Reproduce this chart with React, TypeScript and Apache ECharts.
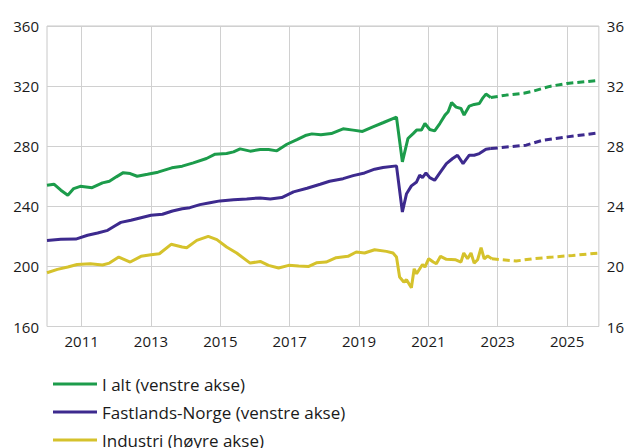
import React, { useEffect, useRef } from "react";
import * as echarts from "echarts";

// Tick years on the horizontal axis
const tickYears = [2011, 2013, 2015, 2017, 2019, 2021, 2023, 2025];

// Legend names
const nameTotal = "I alt (venstre akse)";
const nameMainland = "Fastlands-Norge (venstre akse)";
const nameIndustry = "Industri (høyre akse)";

// I alt (left axis) – history [year, value]
const totalHist: [number, number][] = [
  [2010.0, 254], [2010.2, 254.7], [2010.4, 250.7], [2010.6, 247.3], [2010.77, 251.8], [2010.96, 253.3],
  [2011.3, 252.4], [2011.6, 255.6], [2011.8, 256.7], [2012.0, 259.6], [2012.2, 262.4], [2012.4, 261.8],
  [2012.6, 260], [2012.9, 261.3], [2013.2, 262.7], [2013.6, 265.6], [2013.9, 266.7], [2014.22, 268.9],
  [2014.6, 271.8], [2014.85, 274.7], [2015.18, 275.1], [2015.38, 276.2], [2015.57, 278.2], [2015.86, 276.7],
  [2016.15, 277.8], [2016.39, 277.8], [2016.63, 276.9], [2016.92, 281.3], [2017.21, 284.4], [2017.45, 287.1],
  [2017.64, 288.2], [2017.9, 287.6], [2018.2, 288.4], [2018.54, 291.6], [2018.83, 290.7], [2019.1, 289.8],
  [2019.4, 292.9], [2019.69, 295.6], [2020.08, 299.3], [2020.25, 269.6], [2020.41, 285.1], [2020.56, 288.4],
  [2020.66, 290.7], [2020.8, 290.7], [2020.9, 295.1], [2021.04, 291.1], [2021.18, 290.2], [2021.33, 295.1],
  [2021.48, 300.7], [2021.57, 302.9], [2021.67, 309], [2021.8, 306], [2021.94, 305.1], [2022.03, 300.7],
  [2022.18, 306.7], [2022.32, 307.8], [2022.47, 308.4], [2022.56, 311.8], [2022.66, 314.7], [2022.8, 312.4],
];
// I alt – projection
const totalProj: [number, number][] = [
  [2022.8, 312.4], [2023.25, 314], [2023.75, 315.3], [2024.0, 316.5], [2024.5, 319.8], [2025.0, 321.8], [2025.92, 323.8],
];

// Fastlands-Norge (left axis) – history
const mainlandHist: [number, number][] = [
  [2010.0, 217.3], [2010.4, 218], [2010.83, 218.2], [2011.17, 220.7], [2011.46, 222.2], [2011.75, 224],
  [2011.94, 226.7], [2012.13, 229.3], [2012.42, 230.7], [2012.71, 232.4], [2013.0, 234], [2013.33, 234.7],
  [2013.62, 236.9], [2013.9, 238.4], [2014.12, 239.1], [2014.41, 241.1], [2014.7, 242.4], [2014.99, 243.6],
  [2015.38, 244.4], [2015.76, 244.9], [2016.15, 245.6], [2016.44, 244.9], [2016.77, 245.8], [2017.11, 249.6],
  [2017.5, 252], [2017.88, 254.7], [2018.15, 256.7], [2018.54, 258.4], [2018.83, 260.4], [2019.16, 262.2],
  [2019.45, 264.7], [2019.69, 265.8], [2020.08, 266.9], [2020.25, 236.2], [2020.37, 248.4], [2020.51, 253.6],
  [2020.66, 256.2], [2020.75, 260.7], [2020.83, 259.1], [2020.93, 262.2], [2021.04, 259.1], [2021.18, 257.3],
  [2021.33, 262.2], [2021.52, 268.4], [2021.7, 271.8], [2021.84, 274], [2022.0, 268.4], [2022.18, 274],
  [2022.32, 274], [2022.47, 275.1], [2022.66, 278], [2022.8, 278.4],
];
// Fastlands-Norge – projection
const mainlandProj: [number, number][] = [
  [2022.8, 278.4], [2023.33, 279.6], [2023.82, 280.7], [2024.3, 284], [2025.0, 286.2], [2025.92, 288.9],
];

// Industri (right axis) – history
const industryHist: [number, number][] = [
  [2010.0, 19.58], [2010.3, 19.8], [2010.6, 19.96], [2010.87, 20.13], [2011.25, 20.18], [2011.6, 20.09],
  [2011.8, 20.22], [2012.07, 20.62], [2012.4, 20.29], [2012.71, 20.67], [2013.0, 20.78], [2013.24, 20.84],
  [2013.58, 21.47], [2013.9, 21.29], [2014.03, 21.24], [2014.32, 21.73], [2014.65, 22.0], [2014.9, 21.78],
  [2015.18, 21.29], [2015.47, 20.89], [2015.86, 20.22], [2016.15, 20.33], [2016.39, 20.07], [2016.68, 19.89],
  [2016.97, 20.07], [2017.26, 20.02], [2017.55, 20.0], [2017.77, 20.24], [2018.05, 20.29], [2018.34, 20.58],
  [2018.68, 20.67], [2018.92, 20.96], [2019.16, 20.89], [2019.45, 21.11], [2019.79, 21.0], [2019.98, 20.89],
  [2020.08, 20.62], [2020.17, 19.29], [2020.29, 18.96], [2020.37, 19.11], [2020.51, 18.58], [2020.59, 19.84],
  [2020.66, 19.51], [2020.83, 20.13], [2020.9, 19.96], [2021.01, 20.51], [2021.14, 20.29], [2021.23, 20.18],
  [2021.35, 20.67], [2021.52, 20.47], [2021.79, 20.44], [2021.94, 20.29], [2022.02, 20.89], [2022.13, 20.51],
  [2022.23, 20.89], [2022.32, 20.22], [2022.42, 20.44], [2022.52, 21.24], [2022.61, 20.51], [2022.71, 20.69],
  [2022.83, 20.51],
];
// Industri – projection
const industryProj: [number, number][] = [
  [2022.83, 20.51], [2023.14, 20.44], [2023.53, 20.36], [2024.01, 20.51], [2024.59, 20.62], [2025.16, 20.73], [2025.92, 20.89],
];

const GREEN = "#1c9c4b";
const PURPLE = "#3d2a8e";
const YELLOW = "#d5c22c";
const FONT = "'Open Sans', 'Liberation Sans', sans-serif";
const TEXT = "#1a1a1a";

export default function App() {
  const ref = useRef<HTMLDivElement>(null);
  useEffect(() => {
    if (!ref.current) return;
    const chart = echarts.init(ref.current, undefined, { renderer: "svg" });
    const solid = (name: string, data: [number, number][], color: string, yAxisIndex: number) => ({
      type: "line",
      name,
      data,
      yAxisIndex,
      showSymbol: false,
      symbol: "none",
      color,
      itemStyle: { color },
      lineStyle: { color, width: 3 },
      emphasis: { disabled: true },
    });
    const dashed = (name: string, data: [number, number][], color: string, yAxisIndex: number) => ({
      type: "line",
      name,
      data,
      yAxisIndex,
      showSymbol: false,
      symbol: "none",
      color,
      lineStyle: { color, width: 3, type: [7, 4] },
      emphasis: { disabled: true },
    });
    chart.setOption({
      animation: false,
      textStyle: { fontFamily: FONT },
      grid: {
        left: 47,
        right: 28,
        top: 26,
        bottom: 121.5,
        show: true,
        borderColor: "#c8c8c8",
        borderWidth: 1,
        containLabel: false,
      },
      legend: {
        orient: "vertical",
        left: 53,
        top: 375,
        height: 90,
        padding: 0,
        itemWidth: 44,
        itemHeight: 3,
        itemGap: 10,
        icon: "rect",
        data: [nameTotal, nameMainland, nameIndustry],
        textStyle: { fontFamily: FONT, fontSize: 17, color: TEXT, lineHeight: 18 },
        selectedMode: false,
      },
      xAxis: {
        type: "value",
        min: 2010,
        max: 2010 + 191 / 12,
        axisLine: { show: false },
        axisTick: { show: false, customValues: tickYears },
        axisLabel: {
          customValues: tickYears,
          formatter: (v: number) => String(Math.round(v)),
          fontFamily: FONT,
          fontSize: 15,
          color: TEXT,
          margin: 7,
        },
        splitLine: { show: true, lineStyle: { color: "#d0d0d0", width: 1 } },
      },
      yAxis: [
        {
          type: "value",
          min: 160,
          max: 360,
          interval: 40,
          axisLine: { show: false },
          axisTick: { show: false },
          axisLabel: { fontFamily: FONT, fontSize: 15, color: TEXT, margin: 8 },
          splitLine: { show: true, lineStyle: { color: "#d0d0d0", width: 1 } },
        },
        {
          type: "value",
          min: 16,
          max: 36,
          interval: 4,
          position: "right",
          axisLine: { show: false },
          axisTick: { show: false },
          axisLabel: { fontFamily: FONT, fontSize: 15, color: TEXT, margin: 8 },
          splitLine: { show: false },
        },
      ],
      series: [
        solid(nameTotal, totalHist, GREEN, 0),
        dashed("I alt prognose", totalProj, GREEN, 0),
        solid(nameMainland, mainlandHist, PURPLE, 0),
        dashed("Fastlands-Norge prognose", mainlandProj, PURPLE, 0),
        solid(nameIndustry, industryHist, YELLOW, 1),
        dashed("Industri prognose", industryProj, YELLOW, 1),
      ],
    });
    return () => chart.dispose();
  }, []);
  return (
    <div
      ref={ref}
      style={{ position: "fixed", left: 0, top: 0, width: 627, height: 448, background: "#fff" }}
    />
  );
}
